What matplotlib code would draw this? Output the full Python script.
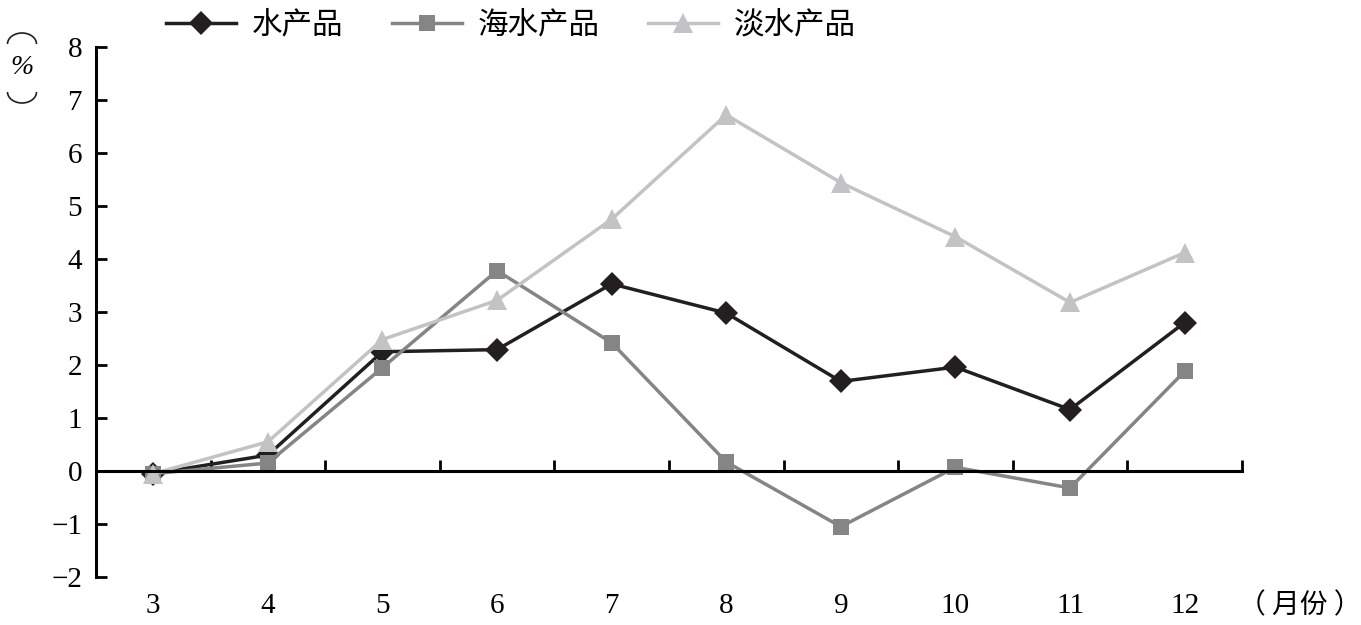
import matplotlib
matplotlib.use("Agg")
import matplotlib.pyplot as plt
from matplotlib.patches import Arc
from matplotlib.transforms import blended_transform_factory

plt.rcParams["font.family"] = ["Liberation Serif", "Noto Sans CJK SC"]

months = ["3", "4", "5", "6", "7", "8", "9", "10", "11", "12"]
aquatic = [-0.05, 0.30, 2.25, 2.29, 3.53, 2.98, 1.69, 1.96, 1.16, 2.80]
marine = [-0.05, 0.15, 1.95, 3.78, 2.42, 0.17, -1.05, 0.07, -0.32, 1.88]
freshwater = [-0.05, 0.55, 2.48, 3.22, 4.75, 6.72, 5.44, 4.42, 3.18, 4.12]

series = [
    ("水产品", aquatic, "#231f20", "D", 12),
    ("海水产品", marine, "#858585", "s", 11),
    ("淡水产品", freshwater, "#c3c3c5", "^", 14),
]

W, H = 1361, 625
fig = plt.figure(figsize=(W / 100, H / 100), dpi=100)
ax = fig.add_axes([0.0705, 0.0768, 0.842, 0.848])

x = list(range(len(months)))
for name, values, color, marker, ms in series:
    ax.plot(x, values, color=color, linewidth=2.5, marker=marker,
            markersize=ms, markeredgewidth=0, label=name)

ax.set_xlim(-0.5, len(months) - 0.5)
ax.set_ylim(-2, 8)
ax.set_yticks(range(-2, 9))
ax.set_yticklabels([str(v).replace("-", "\u2212") for v in range(-2, 9)])

for side in ["top", "right"]:
    ax.spines[side].set_visible(False)
ax.spines["bottom"].set_position(("data", 0))
ax.spines["left"].set_linewidth(2.2)
ax.spines["bottom"].set_linewidth(2.2)

ax.set_xticks([i - 0.5 for i in range(len(months) + 1)])
ax.set_xticklabels([])
ax.tick_params(axis="x", direction="in", length=8, width=2)
ax.tick_params(axis="y", direction="in", length=8, width=2,
               labelsize=21, pad=10)

trans = blended_transform_factory(ax.transData, ax.transAxes)
for i, m in enumerate(months):
    ax.text(i, -0.055, m, transform=trans, ha="center", va="center",
            fontsize=21)

fig.text(1300 / W, 1 - 605 / H, "（ 月份 ）", ha="center", va="center",
         fontsize=20, family=["Noto Sans CJK SC"])

# vertical "(%)" unit label: arcs above and below the percent sign
fig.text(22 / W, 1 - 68 / H, "%", ha="center", va="center",
         fontsize=20, style="italic")
fig.add_artist(Arc((22 / W, 1 - 44 / H), 29 / W, 22 / H, theta1=0,
                   theta2=180, transform=fig.transFigure, color="#231f20",
                   linewidth=1.2))
fig.add_artist(Arc((22 / W, 1 - 92 / H), 29 / W, 22 / H, theta1=180,
                   theta2=360, transform=fig.transFigure, color="#231f20",
                   linewidth=1.2))

ax.legend(loc="center", bbox_to_anchor=(0.362, 1.04), ncol=3, frameon=False,
          fontsize=22, handlelength=2.3, columnspacing=1.6, handletextpad=0.5)

fig.savefig("out.png", dpi=100)
